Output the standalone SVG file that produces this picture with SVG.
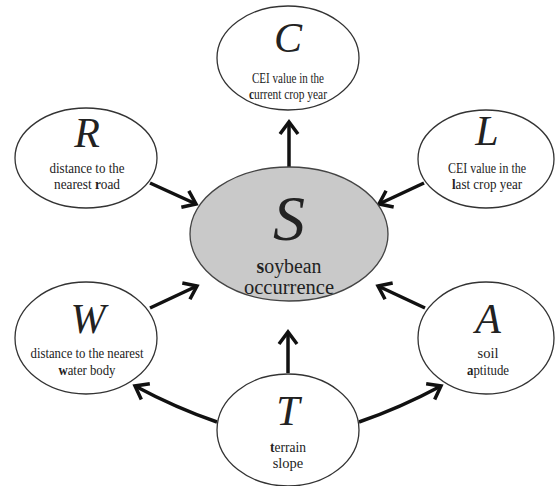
<svg xmlns="http://www.w3.org/2000/svg" width="555" height="486" viewBox="0 0 555 486">
<style>
.node{fill:#fff;stroke:#333;stroke-width:1.3}
.main{fill:#c9c9c9;stroke:#444;stroke-width:1.3}
.let{font-family:"Liberation Serif","Times New Roman",serif;font-style:italic;font-size:42px;fill:#222;text-anchor:middle}
.lab{font-family:"Liberation Serif","Times New Roman",serif;font-size:14.5px;fill:#222;text-anchor:middle}
.big{font-family:"Liberation Serif","Times New Roman",serif;font-size:20px;fill:#222;text-anchor:middle}
.b{font-weight:bold}
.con{fill:none;stroke:#111;stroke-width:3.5}
</style>
<defs>
<marker id="ah" markerUnits="userSpaceOnUse" markerWidth="40" markerHeight="40" viewBox="-20 -20 40 40" refX="0" refY="0" orient="auto" overflow="visible">
<path d="M-12,-9 L0,0 L-12,9" fill="none" stroke="#111" stroke-width="3.5" stroke-linecap="butt" stroke-linejoin="miter"/>
</marker>
</defs>
<rect width="555" height="486" fill="#fff"/>
<g id="connectors">
<line class="con" x1="289" y1="167" x2="289" y2="122" marker-end="url(#ah)"/>
<line class="con" x1="150" y1="183" x2="196" y2="204" marker-end="url(#ah)"/>
<line class="con" x1="424" y1="183" x2="379" y2="204" marker-end="url(#ah)"/>
<line class="con" x1="150" y1="308" x2="197" y2="286" marker-end="url(#ah)"/>
<line class="con" x1="425" y1="308" x2="378" y2="286" marker-end="url(#ah)"/>
<line class="con" x1="288" y1="373" x2="288" y2="332" marker-end="url(#ah)"/>
<path class="con" d="M217,422 Q176,408 135,386" marker-end="url(#ah)"/>
<path class="con" d="M359,422 Q400,408 441,386" marker-end="url(#ah)"/>
</g>
<g id="S">
<ellipse class="main" cx="289" cy="234" rx="99" ry="67"/>
<text class="let" x="289" y="240" style="font-size:64px">S</text>
<text class="big" x="289" y="273" textLength="65" lengthAdjust="spacingAndGlyphs"><tspan class="b">s</tspan>oybean</text>
<text class="big" x="289" y="294" textLength="90" lengthAdjust="spacingAndGlyphs">occurrence</text>
</g>
<g id="C">
<ellipse class="node" cx="288" cy="58" rx="71" ry="52"/>
<text class="let" x="288" y="52">C</text>
<text class="lab" x="288" y="83" textLength="72" lengthAdjust="spacingAndGlyphs">CEI value in the</text>
<text class="lab" x="288" y="99" textLength="78" lengthAdjust="spacingAndGlyphs"><tspan class="b">c</tspan>urrent crop year</text>
</g>
<g id="R">
<ellipse class="node" cx="86" cy="158" rx="71" ry="50"/>
<text class="let" x="87" y="147">R</text>
<text class="lab" x="87" y="173" textLength="75" lengthAdjust="spacingAndGlyphs">distance to the</text>
<text class="lab" x="87" y="189" textLength="66" lengthAdjust="spacingAndGlyphs">nearest <tspan class="b">r</tspan>oad</text>
</g>
<g id="L">
<ellipse class="node" cx="486" cy="159" rx="68" ry="49"/>
<text class="let" x="487" y="145">L</text>
<text class="lab" x="487" y="173" textLength="78" lengthAdjust="spacingAndGlyphs">CEI value in the</text>
<text class="lab" x="487" y="189" textLength="70" lengthAdjust="spacingAndGlyphs"><tspan class="b">l</tspan>ast crop year</text>
</g>
<g id="W">
<ellipse class="node" cx="86" cy="338" rx="71" ry="56"/>
<text class="let" x="88" y="333">W</text>
<text class="lab" x="87" y="358" textLength="113" lengthAdjust="spacingAndGlyphs">distance to the nearest</text>
<text class="lab" x="87" y="375" textLength="57" lengthAdjust="spacingAndGlyphs"><tspan class="b">w</tspan>ater body</text>
</g>
<g id="A">
<ellipse class="node" cx="486" cy="338" rx="68" ry="56"/>
<text class="let" x="488" y="333">A</text>
<text class="lab" x="488" y="358">soil</text>
<text class="lab" x="488" y="375" textLength="42" lengthAdjust="spacingAndGlyphs"><tspan class="b">a</tspan>ptitude</text>
</g>
<g id="T">
<ellipse class="node" cx="288" cy="430" rx="71" ry="56"/>
<text class="let" x="288" y="425">T</text>
<text class="lab" x="288" y="452" textLength="36" lengthAdjust="spacingAndGlyphs"><tspan class="b">t</tspan>errain</text>
<text class="lab" x="288" y="468">slope</text>
</g>
</svg>
